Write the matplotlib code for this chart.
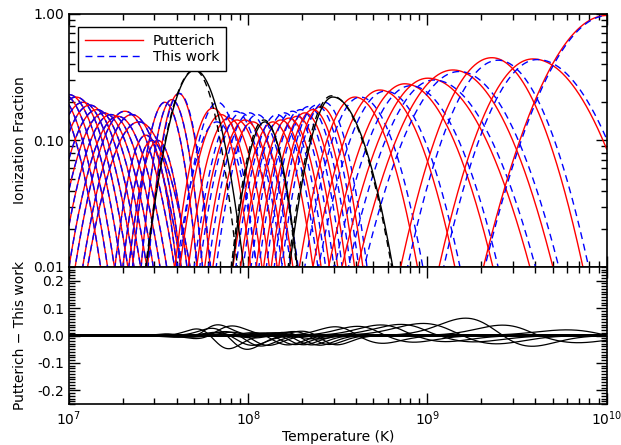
import numpy as np
import matplotlib.pyplot as plt
from matplotlib.ticker import LogLocator, MultipleLocator, FormatStrFormatter, NullFormatter, FixedLocator

# each ion: log10 of peak temperature (K), peak fraction, curvature below / above peak (dex^-2)
putt_logt = [6.883, 6.922, 6.961, 7.000, 7.039, 7.078, 7.117, 7.156, 7.195, 7.234, 7.273, 7.312, 7.351, 7.390,
             7.429, 7.463, 7.496, 7.535, 7.574, 7.613,
             7.703,
             7.803, 7.848, 7.892, 7.937, 7.982, 8.026, 8.093, 8.138, 8.182, 8.227, 8.272, 8.316, 8.361, 8.405,
             8.472,
             8.595, 8.735, 8.874, 9.002, 9.142, 9.359, 9.588, 10.00]
putt_peak = [0.24, 0.24, 0.235, 0.23, 0.22, 0.20, 0.19, 0.175, 0.165, 0.16, 0.155, 0.17, 0.16, 0.14,
             0.11, 0.10, 0.10, 0.20, 0.21, 0.235,
             0.36,
             0.18, 0.16, 0.15, 0.145, 0.145, 0.14, 0.14, 0.14, 0.145, 0.15, 0.155, 0.165, 0.175, 0.185,
             0.22,
             0.22, 0.25, 0.28, 0.31, 0.36, 0.45, 0.44, 0.97]
putt_klo = [16, 16, 16, 16, 16, 16, 16, 16, 16, 16, 16, 16, 16, 14,
            35, 38, 38, 40, 45, 45,
            21,
            28, 23, 23, 23, 23, 23, 35, 23, 23, 23, 23, 23, 23, 23,
            23,
            14, 10, 8, 6.5, 5.5, 6.4, 6.0, 4.2]
putt_khi = [16, 16, 16, 16, 16, 16, 16, 16, 16, 16, 16, 16, 16, 14,
            35, 38, 38, 40, 45, 45,
            21,
            28, 23, 23, 23, 23, 23, 35, 23, 23, 23, 23, 23, 23, 23,
            12,
            11, 8, 6, 4.6, 5.0, 6.4, 4.2, 4.2]

work_logt = [6.883, 6.922, 6.961, 7.000, 7.039, 7.078, 7.117, 7.156, 7.195, 7.234, 7.273, 7.312, 7.351, 7.390,
             7.429, 7.463, 7.496, 7.535, 7.574, 7.616,
             7.700,
             7.830, 7.825, 7.930, 7.960, 8.008, 8.050, 8.088, 8.160, 8.202, 8.247, 8.292, 8.336, 8.381, 8.425,
             8.465,
             8.625, 8.765, 8.906, 9.036, 9.177, 9.394, 9.613, 10.008]
work_peak = [0.24, 0.24, 0.235, 0.23, 0.22, 0.20, 0.19, 0.175, 0.165, 0.16, 0.155, 0.17, 0.16, 0.14,
             0.11, 0.10, 0.10, 0.20, 0.21, 0.235,
             0.36,
             0.20, 0.14, 0.17, 0.165, 0.165, 0.16, 0.145, 0.16, 0.165, 0.17, 0.175, 0.185, 0.19, 0.20,
             0.225,
             0.22, 0.245, 0.27, 0.30, 0.35, 0.43, 0.435, 0.97]
work_klo = putt_klo
work_khi = [16, 16, 16, 16, 16, 16, 16, 16, 16, 16, 16, 16, 16, 14,
            35, 38, 38, 40, 45, 45,
            27,
            28, 23, 23, 23, 23, 23, 35, 23, 23, 23, 23, 23, 23, 23,
            12,
            11, 8, 6, 4.6, 5.0, 6.4, 4.2, 4.2]

# ions drawn in black (closed shells)
black_ions = [20, 27, 35]

logt = np.linspace(7, 10, 1500)
temp = 10 ** logt


def fraction(lt0, f0, klo, khi):
    d = logt - lt0
    k = np.where(d < 0, klo, khi)
    return f0 * 10 ** (-k * d ** 2)


plt.rcParams['font.family'] = 'DejaVu Sans'
plt.rcParams['mathtext.fontset'] = 'dejavusans'

fig = plt.figure(figsize=(6.21, 4.45), dpi=100)
ax1 = fig.add_axes([0.111, 0.400, 0.866, 0.569])
ax2 = fig.add_axes([0.111, 0.092, 0.866, 0.308])

diffs = []
for i in range(len(putt_logt)):
    fp = fraction(putt_logt[i], putt_peak[i], putt_klo[i], putt_khi[i])
    fw = fraction(work_logt[i], work_peak[i], work_klo[i], work_khi[i])
    blk = i in black_ions
    ax1.plot(temp, fp, color='black' if blk else 'red', lw=1.0, zorder=3 if blk else 2)
    ax1.plot(temp, fw, color='black' if blk else 'blue', lw=1.0, ls=(0, (5, 3.5)),
             zorder=3 if blk else 2)
    diffs.append(fp - fw)

ax1.plot([], [], color='red', lw=1.0, label='Putterich')
ax1.plot([], [], color='blue', lw=1.0, ls=(0, (5, 3.5)), label='This work')

for d in diffs:
    ax2.plot(temp, d, color='black', lw=0.9)

for ax in (ax1, ax2):
    ax.set_xscale('log')
    ax.set_xlim(1e7, 1e10)
    ax.tick_params(which='both', direction='in', top=True, right=True, labelsize=10)
    ax.tick_params(which='major', length=8, width=1)
    ax.tick_params(which='minor', length=4, width=1)
    for s in ax.spines.values():
        s.set_linewidth(1.2)

ax1.set_yscale('log')
ax1.set_ylim(0.01, 1.0)
ax1.yaxis.set_major_locator(FixedLocator([0.01, 0.1, 1.0]))
ax1.yaxis.set_major_formatter(FormatStrFormatter('%.2f'))
ax1.yaxis.set_minor_locator(LogLocator(base=10, subs=np.arange(2, 10)))
ax1.yaxis.set_minor_formatter(NullFormatter())
ax1.xaxis.set_major_formatter(NullFormatter())
ax1.xaxis.set_minor_formatter(NullFormatter())
ax1.set_ylabel('Ionization Fraction', fontsize=10)

ax2.set_ylim(-0.25, 0.25)
ax2.yaxis.set_major_locator(MultipleLocator(0.1))
ax2.yaxis.set_minor_locator(MultipleLocator(0.01))
ax2.yaxis.set_major_formatter(FormatStrFormatter('%.1f'))
ax2.set_xlabel('Temperature (K)', fontsize=10, labelpad=1)
ax2.set_ylabel('Putterich \u2212 This work', fontsize=10)
ax2.xaxis.set_minor_formatter(NullFormatter())
ax2.tick_params(axis='x', which='major', pad=4)

ax1.yaxis.set_label_coords(-0.078, 0.5)
ax2.yaxis.set_label_coords(-0.078, 0.5)

leg = ax1.legend(loc='upper left', bbox_to_anchor=(0.017, 0.949), borderaxespad=0,
                 handlelength=4.2, handletextpad=0.7, borderpad=0.5, labelspacing=0.15,
                 fancybox=False, edgecolor='black', framealpha=1, fontsize=10)
leg.get_frame().set_linewidth(1.0)

fig.savefig('out.png', dpi=100)
